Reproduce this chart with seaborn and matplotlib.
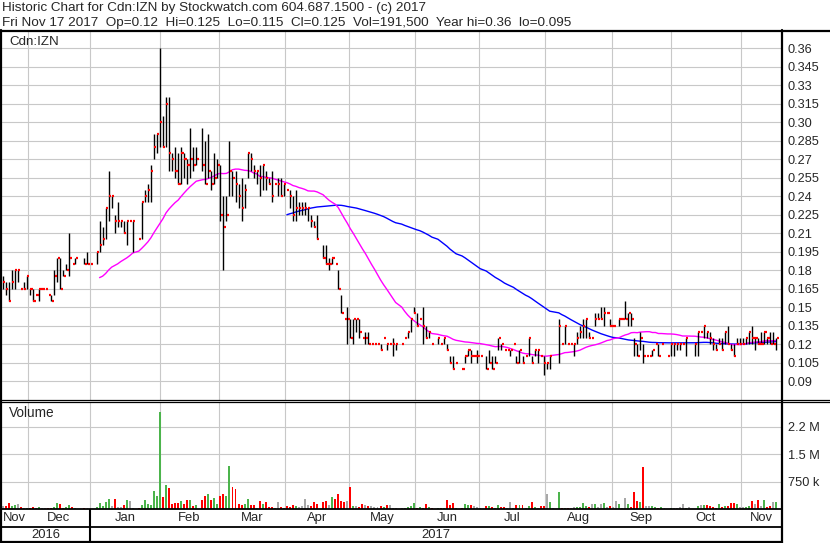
import numpy as np
import pandas as pd
import matplotlib
matplotlib.use("Agg")
import matplotlib.pyplot as plt
from matplotlib.lines import Line2D
import seaborn as sns

nan = np.nan

# daily bars, Nov 18 2016 .. Nov 17 2017 (nan = no bar drawn)
high = [
    .175, .17, .17, .18, .18, .18, .165, .17, .175, .165, .165, .16, .165, .165, .165, .16, .16, .18, .19, .19,
    .18, .185, .21, .185, .19, nan, nan, .19, .195, .185, nan, .195, .22, .215, .23, .26, .24, .225, .235, .22,
    .22, .22, .22, .22, nan, .205, .235, .245, .25, .265, .29, .29, .36, .305, .32, .32, .275, .28, .275, .28,
    .275, .27, .295, .28, .28, nan, .295, .285, .29, .26, .275, .27, .265, .24, .24, .285, .26, .26, .25, .255,
    .25, .275, .275, .265, .26, .265, .265, .26, .255, .26, .25, .255, .255, .25, .245, .245, .24, .245, .235, .235,
    .235, .23, .225, .22, .225, nan, .20, .20, .19, .19, .185, .18, .16, .14, .15, .14, .14, .14, .14, .125,
    .13, .13, .12, .12, .12, .12, .125, .12, .12, .125, .12, nan, .12, .125, .13, .14, .15, .145, .14, .15,
    .135, .13, .12, nan, .125, .12, .125, .12, .11, .11, .105, nan, .10, .11, .115, .115, .11, .115, .11, nan,
    .11, .115, .11, .11, .125, .12, .115, .115, .115, .12, .11, .115, .11, .11, .125, .11, .115, .115, .11, .11,
    .105, .11, nan, nan, .14, .12, .135, .12, .12, .12, .13, .135, .14, .14, .13, .125, .145, .145, .15, .15,
    .145, .14, .135, nan, .14, .14, .155, .145, .145, .125, .12, .13, .12, .11, .11, .115, .12, .12, .12, nan,
    .11, .12, .12, .12, .12, .12, .125, nan, nan, .12, .13, .13, .135, .13, .13, .125, .12, .125, .125, .13,
    .135, .12, .12, .125, .125, .125, .125, .13, .135, .125, .125, .13, .13, .125, .13, .13, .125,
]
low = [
    .165, .16, .155, .165, .165, .17, .165, .165, .165, .16, .155, .16, .155, .165, .165, .16, .155, .16, .17, .165,
    .175, .18, .175, .185, .185, nan, nan, .185, .185, .185, nan, .185, .195, .20, .205, .22, .23, .21, .215, .215,
    .21, .20, .22, .195, nan, .205, .205, .235, .235, .235, .27, .275, .28, .28, .28, .26, .26, .255, .25, .25,
    .255, .25, .255, .26, .265, nan, .26, .25, .255, .245, .25, .255, .22, .18, .22, .24, .24, .235, .23, .22,
    .23, .255, .26, .255, .25, .24, .245, .245, .25, .235, .25, .24, .24, .24, .245, .23, .22, .22, .225, .225,
    .225, .22, .215, .215, .205, nan, .19, .185, .18, .185, .185, .165, .145, .14, .12, .125, .12, .13, .125, .125,
    .12, .12, .12, .12, .12, .115, .125, .115, .12, .11, .115, nan, .12, .125, .125, .13, .145, .135, .14, .12,
    .125, .125, .12, nan, .12, .12, .12, .115, .105, .10, .105, nan, .10, .105, .11, .105, .11, .105, .11, nan,
    .10, .105, .10, .105, .115, .115, .115, .115, .11, .12, .105, .105, .105, .11, .11, .105, .11, .105, .11, .095,
    .10, .10, nan, nan, .105, .12, .12, .12, .12, .11, .12, .125, .125, .125, .125, .125, .135, .14, .14, .135,
    .145, .135, .135, nan, .135, .14, .14, .135, .135, .11, .11, .115, .105, .11, .11, .11, .12, .11, .12, nan,
    .11, .11, .11, .115, .115, .12, .11, nan, nan, .11, .11, .13, .125, .125, .12, .115, .115, .12, .115, .12,
    .12, .115, .11, .12, .12, .12, .12, .12, .12, .115, .12, .12, .12, .12, .12, .12, .115,
]
close = [
    .17, .165, .155, .17, .18, .18, .165, .165, .175, .165, .155, .16, .165, .165, .165, .16, .155, .175, .19, .165,
    .175, .18, .19, .185, .19, nan, nan, .185, .185, .185, nan, .195, .20, .205, .23, .24, .24, .22, .22, .22,
    .21, .22, .22, .22, nan, .205, .235, .24, .245, .26, .28, .29, .30, .28, .315, .275, .27, .26, .25, .275,
    .27, .265, .27, .265, .27, nan, .265, .25, .26, .25, .255, .265, .225, .215, .225, .26, .255, .25, .24, .23,
    .245, .275, .27, .26, .26, .255, .265, .255, .25, .24, .25, .25, .24, .25, .245, .24, .225, .23, .23, .23,
    .23, .23, .22, .215, .205, nan, .19, .185, .185, .19, .185, .165, .145, .14, .14, .125, .14, .14, .13, .125,
    .125, .12, .12, .12, .12, .115, .125, .12, .12, .12, .12, nan, .12, .125, .13, .14, .145, .135, .14, .135,
    .125, .13, .12, nan, .125, .12, .125, .115, .105, .10, .105, nan, .10, .11, .115, .11, .11, .11, .11, nan,
    .10, .105, .10, .105, .125, .12, .115, .115, .115, .12, .105, .115, .105, .11, .125, .105, .115, .115, .11, .105,
    .105, .11, nan, nan, .135, .12, .135, .12, .12, .12, .125, .13, .135, .14, .125, .125, .14, .14, .14, .145,
    .145, .135, .135, nan, .14, .14, .14, .145, .14, .12, .11, .125, .11, .11, .11, .115, .12, .11, .12, nan,
    .11, .12, .12, .12, .12, .12, .125, nan, nan, .12, .13, .13, .135, .13, .125, .12, .115, .12, .115, .13,
    .12, .115, .11, .12, .12, .12, .125, .13, .125, .125, .12, .12, .13, .125, .12, .12, .125,
]
# volume in thousands of shares
volume_k = [
    73, 91, 164, 73, 109, 137, 45, 36, 36, 36, 55, 36, 45, 27, 27, 36, 36, 45, 164, 137,
    36, 45, 109, 45, 27, 0, 0, 27, 27, 18, 0, 45, 164, 91, 182, 273, 91, 273, 55, 45,
    109, 255, 218, 36, 0, 36, 109, 255, 137, 109, 500, 346, 2657, 337, 664, 582, 137, 164, 155, 228,
    137, 246, 246, 91, 109, 0, 255, 364, 419, 255, 300, 137, 364, 400, 364, 1183, 610, 546, 137, 109,
    137, 273, 109, 109, 36, 228, 137, 182, 45, 45, 27, 200, 45, 27, 91, 45, 109, 91, 45, 91,
    273, 109, 91, 200, 137, 0, 182, 228, 109, 319, 273, 410, 228, 182, 228, 592, 91, 73, 45, 137,
    109, 91, 73, 45, 45, 73, 45, 109, 109, 18, 18, 0, 27, 27, 55, 91, 164, 27, 55, 27,
    137, 45, 27, 0, 27, 27, 27, 255, 109, 164, 36, 0, 27, 137, 109, 109, 91, 55, 27, 0,
    91, 91, 55, 27, 109, 45, 45, 36, 200, 36, 109, 109, 109, 36, 91, 200, 45, 27, 91, 91,
    410, 200, 27, 0, 473, 27, 27, 27, 36, 45, 45, 55, 164, 91, 45, 137, 137, 45, 137, 164,
    55, 73, 45, 228, 137, 27, 300, 137, 45, 473, 228, 200, 1156, 73, 91, 91, 45, 27, 45, 27,
    0, 27, 27, 27, 55, 137, 27, 55, 0, 0, 91, 109, 109, 109, 91, 55, 27, 137, 55, 91,
    91, 164, 164, 137, 45, 55, 45, 91, 228, 137, 246, 91, 246, 45, 91, 182, 182,
]

# first bar of each month (in bar units) and the labels
month_grid = [8.3, 28.8, 52, 71.5, 93.3, 114.5, 136.5, 157.7, 179.3, 201.5, 221.2, 244.2]
month_names = ["Nov", "Dec", "Jan", "Feb", "Mar", "Apr", "May", "Jun", "Jul", "Aug", "Sep", "Oct", "Nov"]
year_names = ["2016", "2017"]

price_ticks = [0.36, 0.345, 0.33, 0.315, 0.30, 0.285, 0.27, 0.255, 0.24, 0.225,
               0.21, 0.195, 0.18, 0.165, 0.15, 0.135, 0.12, 0.105, 0.09]
price_labels = ["0.36", "0.345", "0.33", "0.315", "0.30", "0.285", "0.27", "0.255", "0.24", "0.225",
                "0.21", "0.195", "0.18", "0.165", "0.15", "0.135", "0.12", "0.105", "0.09"]
vol_ticks = [750000, 1500000, 2250000]
vol_labels = ["750 k", "1.5 M", "2.2 M"]
ma_short, ma_long = 30, 90

title1 = "Historic Chart for Cdn:IZN by Stockwatch.com 604.687.1500 - (c) 2017"
title2 = ("Fri Nov 17 2017  Op=0.12  Hi=0.125  Lo=0.115  Cl=0.125  Vol=191,500  "
          "Year hi=0.36  lo=0.095")

sns.set_style("white")
plt.rcParams["font.family"] = ["Liberation Sans", "DejaVu Sans"]

W, H = 830, 543
GRID = "#c8c8c8"
RED, GREEN, GREY = "#ff0000", "#4cb44c", "#a8a8a8"

df = pd.DataFrame({"high": high, "low": low, "close": close,
                   "volume": np.array(volume_k, dtype=float) * 1000})
df["x"] = np.arange(len(df))
prev = df["close"].ffill().shift(1)
df["vcol"] = np.where(df["close"] > prev, GREEN, np.where(df["close"] < prev, RED, GREY))

valid = df.dropna(subset=["close"])
ma = pd.DataFrame({"x": valid["x"],
                   "short": valid["close"].rolling(ma_short).mean(),
                   "long": valid["close"].rolling(ma_long).mean()})

fig = plt.figure(figsize=(W / 100, H / 100), dpi=100)


def box(x0, y0, x1, y1):
    return [x0 / W, 1 - y1 / H, (x1 - x0) / W, (y1 - y0) / H]


xlim = (-0.3, len(df) + 0.9)

ax = fig.add_axes(box(2, 31, 782, 400))
axv = fig.add_axes(box(2, 402, 782, 509))
axt = fig.add_axes(box(2, 509, 782, 543))

for a in (ax, axv, axt):
    a.set_xlim(*xlim)
    for s in a.spines.values():
        s.set_visible(False)
    a.set_facecolor("white")

# price panel
ax.set_ylim(0.0746, 0.3738)
ax.set_yticks(price_ticks)
ax.set_yticklabels(price_labels)
ax.set_xticks(month_grid)
ax.set_xticklabels([])
ax.yaxis.tick_right()
ax.tick_params(length=0, labelsize=9.2, pad=4)
ax.grid(True, color=GRID, lw=0.8)
ax.set_axisbelow(True)

sns.lineplot(data=ma.dropna(subset=["long"]), x="x", y="long", ax=ax,
             color="#0000ff", lw=1.0, estimator=None)
sns.lineplot(data=ma.dropna(subset=["short"]), x="x", y="short", ax=ax,
             color="#ff00ff", lw=1.0, estimator=None)
bars = df.dropna(subset=["close"])
ax.vlines(bars["x"], bars["low"], bars["high"], color="black", lw=1.0, zorder=3)
ax.hlines(bars["close"], bars["x"] + 0.1, bars["x"] + 0.8, color=RED, lw=1.6, zorder=4)
ax.set_xlabel("")
ax.set_ylabel("")
ax.text(0.009, 0.969, "Cdn:IZN", transform=ax.transAxes, fontsize=9.6, va="center", ha="left")

# volume panel
axv.bar(df["x"], df["volume"], width=0.65, color=df["vcol"], lw=0, zorder=3)
axv.set_ylim(0, 2.92e6)
axv.set_yticks(vol_ticks)
axv.set_yticklabels(vol_labels)
axv.set_xticks(month_grid)
axv.set_xticklabels([])
axv.yaxis.tick_right()
axv.tick_params(length=0, labelsize=9.2, pad=4)
axv.grid(True, color=GRID, lw=0.8)
axv.set_axisbelow(True)
axv.text(0.009, 0.9, "Volume", transform=axv.transAxes, fontsize=9.8, va="center", ha="left")

# month / year rows
axt.set_ylim(0, 1)
axt.set_xticks([])
axt.set_yticks([])
edges = [xlim[0]] + month_grid + [xlim[1]]
for i, name in enumerate(month_names):
    if i == 0:
        axt.text(xlim[0] + 0.2, 0.735, name, ha="left", va="center", fontsize=9.4)
    else:
        axt.text((edges[i] + edges[i + 1]) / 2, 0.735, name, ha="center", va="center", fontsize=9.4)
jan = month_grid[1]
axt.text((xlim[0] + jan) / 2, 0.235, year_names[0], ha="center", va="center", fontsize=9.4)
axt.text((jan + xlim[1]) / 2, 0.235, year_names[1], ha="center", va="center", fontsize=9.4)
axt.axvline(jan, color="black", lw=1.5)


def hline(y, x0, x1, lw):
    fig.add_artist(Line2D([x0 / W, x1 / W], [1 - y / H, 1 - y / H], color="black", lw=lw))


def vline(x, y0, y1, lw):
    fig.add_artist(Line2D([x / W, x / W], [1 - y0 / H, 1 - y1 / H], color="black", lw=lw))


hline(30.5, 0, W, 1.6)
hline(399.8, 0, W, 0.9)
hline(402.2, 0, W, 0.9)
hline(509, 0, 782, 1.3)
hline(527, 0, 782, 1.3)
hline(541.8, 0, 782, 1.6)
vline(1, 30, H, 1.6)
vline(782, 30, H, 1.6)

fig.text(2 / W, 1 - 8.5 / H, title1, fontsize=9.7, va="center", ha="left")
fig.text(2 / W, 1 - 23 / H, title2, fontsize=9.7, va="center", ha="left")

fig.savefig("out.png", dpi=100, facecolor="white")
